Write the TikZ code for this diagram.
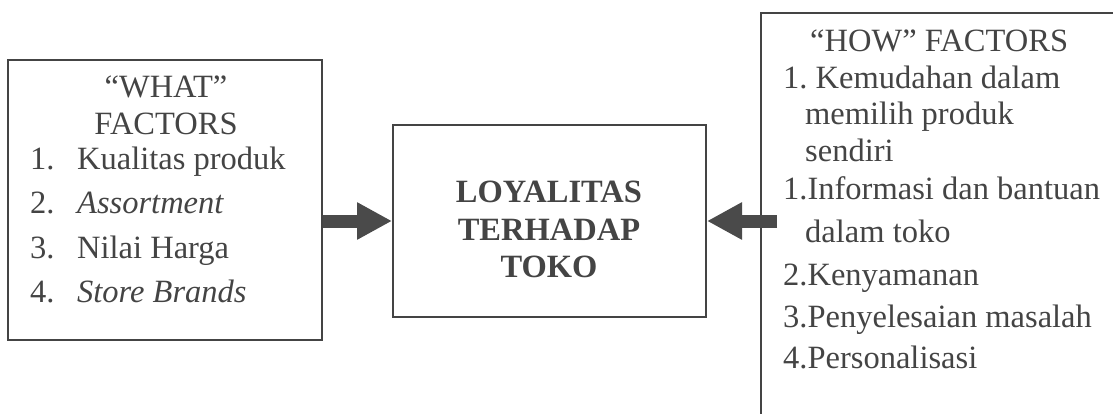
\documentclass[tikz,border=0pt]{standalone}
\usepackage{fontspec}
\setmainfont{Liberation Serif}
\usetikzlibrary{arrows.meta}
\definecolor{ink}{HTML}{444444}
\definecolor{arr}{HTML}{4A4A4A}
\frenchspacing
\tikzset{
  boxnode/.style={draw=ink, line width=2pt, inner sep=0pt, fill=none},
  txt/.style={anchor=base west, inner sep=0pt, text=ink, font=\fontsize{32.5}{38}\selectfont},
  ctxt/.style={anchor=base, inner sep=0pt, text=ink, font=\fontsize{32.5}{38}\selectfont},
  btxt/.style={anchor=base, inner sep=0pt, text=ink, font=\fontsize{32.5}{38}\selectfont\bfseries},
  fat/.style={draw=arr, line width=13pt, -{Triangle[length=35pt, width=35pt, fill=arr]}}
}
\begin{document}
\begin{tikzpicture}[x=1pt, y=-1pt]
\useasboundingbox (0,0) rectangle (1113,414);
% boxes
\node[boxnode, minimum width=314pt, minimum height=280pt] (what) at (165,200) {};
\node[boxnode, minimum width=313pt, minimum height=192pt] (loyal) at (549.5,221) {};
\node[inner sep=0pt, minimum width=400pt, minimum height=440pt] (how) at (961,233) {};
\draw[draw=ink, line width=2pt] (how.south west) -- (how.north west) -- (how.north east);
% left box text
\node[ctxt] (w1) at (166,98) {``WHAT''};
\node[ctxt] (w2) at (166,135) {FACTORS};
\node[txt] (n1) at (30,170) {1.};
\node[txt] (t1) at (77,170) {Kualitas produk};
\node[txt] (n2) at (30,214) {2.};
\node[txt] (t2) at (77,214) {\itshape Assortment};
\node[txt] (n3) at (30,258) {3.};
\node[txt] (t3) at (77,258) {Nilai Harga};
\node[txt] (n4) at (30,302) {4.};
\node[txt] (t4) at (77,302) {\itshape Store Brands};
% center text
\node[btxt] (c1) at (549,203) {LOYALITAS};
\node[btxt] (c2) at (549,240) {TERHADAP};
\node[btxt] (c3) at (549,277) {TOKO};
% right box text
\node[txt] (h0) at (810,52) {``HOW'' FACTORS};
\node[txt] (h1) at (783,89) {1. Kemudahan dalam};
\node[txt] (h2) at (805,125) {memilih produk};
\node[txt] (h3) at (805,162) {sendiri};
\node[txt] (h4) at (783,200) {1.Informasi dan bantuan};
\node[txt] (h5) at (805,242) {dalam toko};
\node[txt] (h6) at (783,285) {2.Kenyamanan};
\node[txt] (h7) at (783,327) {3.Penyelesaian masalah};
\node[txt] (h8) at (783,368) {4.Personalisasi};
% arrows
\coordinate (rstart) at (777,221);
\draw[fat] (what.east |- loyal.west) -- (loyal.west);
\draw[fat] (rstart) -- (loyal.east);
\end{tikzpicture}
\end{document}
